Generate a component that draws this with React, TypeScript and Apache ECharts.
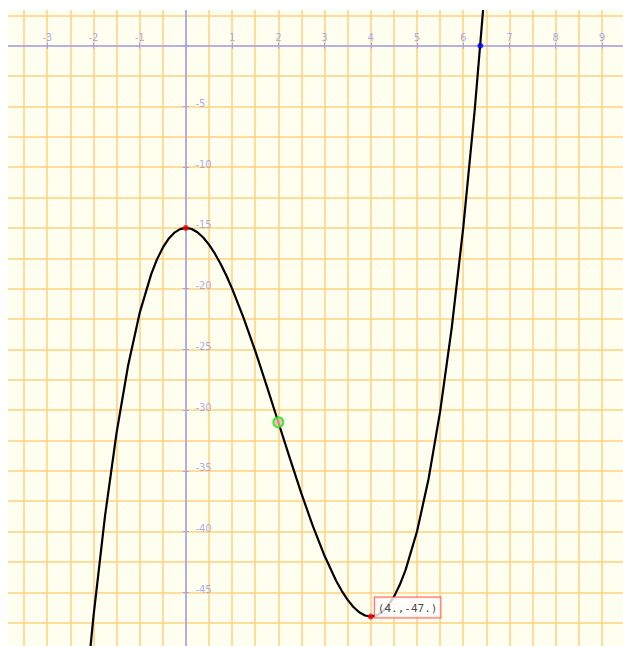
import React, { useEffect, useRef } from "react";
import * as echarts from "echarts";

// Curve samples (x, y)
const curveX = [-2.25, -2, -1.75, -1.5, -1.25, -1, -0.75, -0.625, -0.5, -0.375, -0.25, -0.125, 0, 0.125, 0.25, 0.375, 0.5, 0.625, 0.75, 0.875, 1, 1.25, 1.5, 1.75, 2, 2.25, 2.5, 2.75, 3, 3.25, 3.375, 3.5, 3.625, 3.75, 3.875, 4, 4.125, 4.25, 4.375, 4.5, 4.625, 4.75, 5, 5.25, 5.5, 5.75, 6, 6.25, 6.5, 6.75];
const curveY = [-56.77, -47, -38.73, -31.88, -26.33, -22, -18.8, -17.59, -16.63, -15.9, -15.39, -15.1, -15, -15.09, -15.36, -15.79, -16.38, -17.1, -17.95, -18.92, -20, -22.42, -25.13, -28.02, -31, -33.98, -36.88, -39.58, -42, -44.05, -44.9, -45.63, -46.21, -46.64, -46.91, -47, -46.9, -46.61, -46.1, -45.38, -44.41, -43.2, -40, -35.67, -30.13, -23.27, -15, -5.23, 6.13, 19.17];

// Tick labels
const xTickLabels = [-3, -2, -1, 1, 2, 3, 4, 5, 6, 7, 8, 9];
const yTickLabels = [-5, -10, -15, -20, -25, -30, -35, -40, -45, -50];

// Marked points
const maxPoint = [0, -15];
const inflectionPoint = [2, -31];
const rootPoint = [6.37, 0];
const minPoint = [4, -47];
const minLabel = "(4.,-47.)";

// Axis ranges
const xMin = -4;
const xMax = 9.5;
const yMin = -50;
const yMax = 5;

const AXIS_COLOR = "#a0a0fb";
const LABEL_COLOR = "#9494f0";
const GRID_COLOR = "#ffcf80";

export default function App() {
  const ref = useRef<HTMLDivElement>(null);

  useEffect(() => {
    if (!ref.current) return;
    const chart = echarts.init(ref.current, undefined, { renderer: "svg" });
    const curveData = curveX.map((x, i) => [x, curveY[i]]);
    const labelFont = { fontFamily: "DejaVu Sans", fontSize: 10, color: LABEL_COLOR };

    chart.setOption({
      animation: false,
      grid: { left: 0, right: 0, top: 0, bottom: 0, containLabel: false },
      xAxis: [
        {
          type: "value", min: xMin, max: xMax, interval: 0.5, position: "bottom",
          axisLine: { show: false, onZero: false }, axisTick: { show: false }, axisLabel: { show: false },
          splitLine: { show: true, lineStyle: { color: GRID_COLOR, width: 1.5 } },
        },
        {
          type: "value", min: xMin, max: xMax, interval: 1, position: "bottom",
          axisLine: { show: true, onZero: true, onZeroAxisIndex: 1, lineStyle: { color: AXIS_COLOR, width: 1.6 } },
          axisTick: { show: true, length: 3, lineStyle: { color: AXIS_COLOR, width: 1 } },
          axisLabel: { show: false },
          splitLine: { show: false },
        },
        {
          type: "value", min: xMin, max: xMax, interval: 1, position: "top",
          axisLine: { show: false, onZero: true, onZeroAxisIndex: 2 },
          axisTick: { show: true, length: 3, lineStyle: { color: AXIS_COLOR, width: 1 } },
          axisLabel: { show: false }, splitLine: { show: false },
        },
      ],
      yAxis: [
        {
          type: "value", min: yMin, max: yMax, interval: 2.5, position: "left",
          axisLine: { show: false, onZero: false }, axisTick: { show: false }, axisLabel: { show: false },
          splitLine: { show: true, lineStyle: { color: GRID_COLOR, width: 1.5 } },
        },
        {
          type: "value", min: yMin, max: yMax, interval: 5, position: "left",
          axisLine: { show: true, onZero: true, onZeroAxisIndex: 1, lineStyle: { color: AXIS_COLOR, width: 1.6 } },
          axisTick: { show: true, length: 3, lineStyle: { color: AXIS_COLOR, width: 1 } },
          axisLabel: { show: false },
          splitLine: { show: false },
        },
        {
          type: "value", min: yMin, max: yMax, interval: 5, position: "right",
          axisLine: { show: false, onZero: true, onZeroAxisIndex: 2 },
          axisTick: { show: true, length: 3, lineStyle: { color: AXIS_COLOR, width: 1 } },
          axisLabel: { show: false }, splitLine: { show: false },
        },
      ],
      series: [
        {
          type: "scatter", xAxisIndex: 1, yAxisIndex: 1, z: 2, silent: true, clip: false,
          symbolSize: 1, itemStyle: { color: "rgba(0,0,0,0)" },
          data: xTickLabels.map((v) => [v, 0]),
          label: {
            show: true, position: "top", distance: 3, ...labelFont,
            formatter: (p: any) => String(p.value[0]),
          },
        },
        {
          type: "scatter", xAxisIndex: 1, yAxisIndex: 1, z: 2, silent: true, clip: false,
          symbolSize: 1, itemStyle: { color: "rgba(0,0,0,0)" },
          data: yTickLabels.map((v) => [0, v]),
          label: {
            show: true, position: "right", distance: 9, offset: [0, -3], ...labelFont,
            formatter: (p: any) => String(p.value[1]),
          },
        },
        {
          type: "line", xAxisIndex: 1, yAxisIndex: 1, data: curveData,
          showSymbol: false, symbol: "none", clip: true,
          lineStyle: { color: "#000000", width: 2.2 },
          z: 3,
        },
        {
          type: "scatter", xAxisIndex: 1, yAxisIndex: 1, z: 4,
          data: [
            { value: maxPoint, symbolSize: 6, itemStyle: { color: "#ff0000" } },
            {
              value: inflectionPoint, symbolSize: 10,
              itemStyle: { color: "#f2b4a8", borderColor: "#11ee11", borderWidth: 2 },
            },
            { value: rootPoint, symbolSize: 6, itemStyle: { color: "#0000ff" } },
            {
              value: minPoint, symbolSize: 6, itemStyle: { color: "#ff0000" },
              label: {
                show: true, formatter: minLabel, position: [7, -16],
                fontFamily: "DejaVu Sans Mono", fontSize: 11, lineHeight: 13, color: "#111111",
                backgroundColor: "#ffffff", borderColor: "#ff3333", borderWidth: 1,
                padding: [4, 3, 3, 3],
              },
            },
          ],
        },
      ],
    });
    return () => chart.dispose();
  }, []);

  return (
    <div
      style={{
        position: "fixed", left: 8, top: 10, width: 615, height: 636,
        overflow: "hidden", background: "#fffff0",
      }}
    >
      <div ref={ref} style={{ position: "absolute", left: -7, top: -25, width: 624, height: 668 }} />
    </div>
  );
}
